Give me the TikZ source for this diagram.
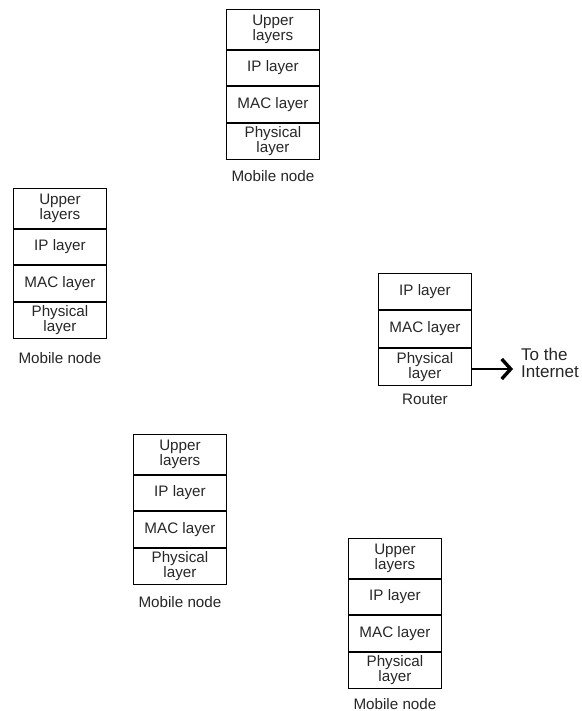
\documentclass[tikz,border=0pt]{standalone}
\usepackage{fontspec}
\setmainfont{Liberation Sans}
\usetikzlibrary{arrows.meta}

% one protocol stack: prefix, left x, top y, caption offset
\newcommand{\mstack}[4]{%
  \node[layer, minimum height=40, anchor=north west] (#1u) at (#2,#3) {Upper\\layers};
  \node[layer, minimum height=35, anchor=north] (#1i) at (#1u.south) {IP layer};
  \node[layer, minimum height=36, anchor=north] (#1m) at (#1i.south) {MAC layer};
  \node[layer, minimum height=36, anchor=north] (#1p) at (#1m.south) {Physical\\layer};
  \node[caption] (#1c) at ([yshift=-#4]#1p.south) {Mobile node};
}

\begin{document}
\begin{tikzpicture}[x=1pt, y=-1pt,
  every node/.style={font=\fontsize{15.2}{15}\selectfont},
  layer/.style={draw, line width=0.9pt, minimum width=93, inner sep=0pt,
    align=center, text=black!85},
  caption/.style={inner sep=0pt, text=black!85},
  link/.style={line width=1.6pt, -{Straight Barb[length=9pt, width=20pt, line width=3.4pt]}}]
  \useasboundingbox (0,0) rectangle (581,711);

  \mstack{a}{226}{9}{16}
  \mstack{b}{13}{188}{19}
  \mstack{c}{133}{434}{17}
  \mstack{d}{348}{538}{15}

  % router
  \node[layer, minimum height=36, anchor=north west] (ri) at (378,273) {IP layer};
  \node[layer, minimum height=37, anchor=north] (rm) at (ri.south) {MAC layer};
  \node[layer, minimum height=37, anchor=north] (rp) at (rm.south) {Physical\\layer};
  \node[caption] (rc) at ([yshift=-14]rp.south) {Router};

  \node[caption, anchor=west, align=left, font=\fontsize{17}{17}\selectfont] (net) at (521,363) {To the\\Internet};
  \coordinate (tip) at (513,369);
  \draw[link] (rp.east |- tip) -- (tip);
\end{tikzpicture}
\end{document}
